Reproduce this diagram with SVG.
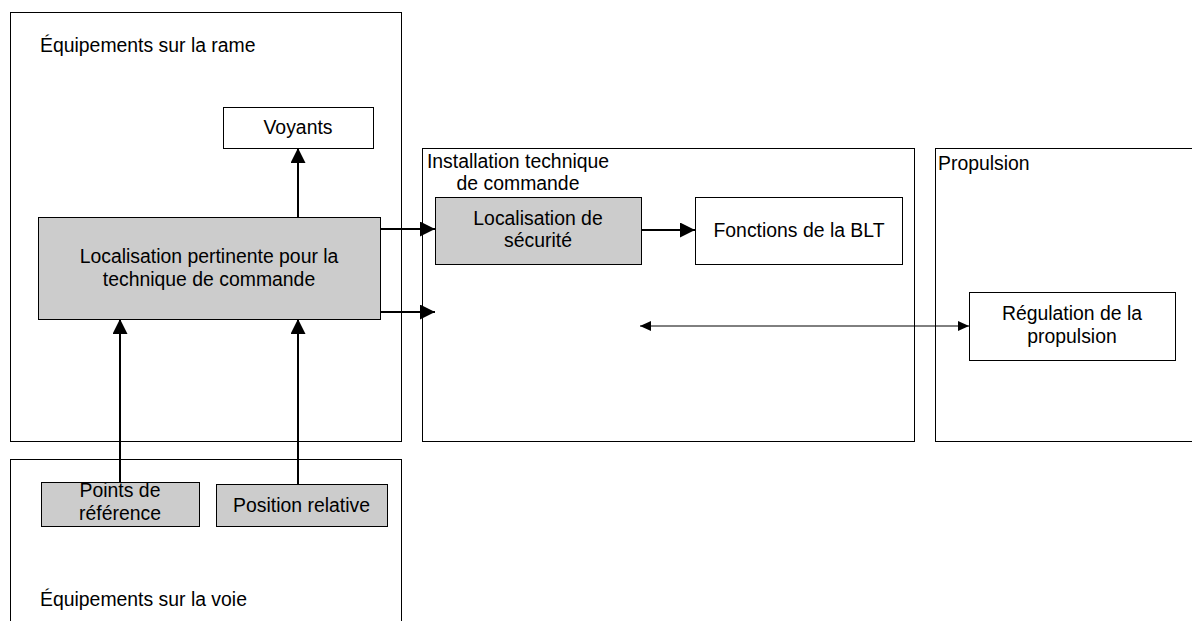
<svg xmlns="http://www.w3.org/2000/svg" width="1192" height="621" viewBox="0 0 1192 621">
<style>
text{font-family:"Liberation Sans",Arial,sans-serif;font-size:19.4px;fill:#000}
.c{text-anchor:middle}
.frame{fill:#fff;stroke:#000;stroke-width:1}
.box{fill:#fff;stroke:#000;stroke-width:1}
.grey{fill:#cccccc;stroke:#000;stroke-width:1}
.arr{stroke:#000;stroke-width:2;fill:none}
.arr1{stroke:#000;stroke-width:1;fill:none}
</style>
<defs>
<marker id="ah" markerUnits="userSpaceOnUse" markerWidth="16" markerHeight="16" refX="15" refY="7.5" orient="auto">
<path d="M0,0 L15,7.5 L0,15 z" fill="#000"/>
</marker>
<marker id="ahs" markerUnits="userSpaceOnUse" markerWidth="12" markerHeight="12" refX="11" refY="5" orient="auto-start-reverse">
<path d="M0,0 L11,5 L0,10 z" fill="#000"/>
</marker>
</defs>
<rect width="1192" height="621" fill="#fff"/>
<g id="rame">
<rect class="frame" x="10.5" y="12.5" width="391" height="429"/>
<text x="40" y="52">Équipements sur la rame</text>
</g>
<g id="voie">
<rect class="frame" x="10.5" y="459.5" width="391" height="180"/>
<text x="40" y="606">Équipements sur la voie</text>
</g>
<g id="installation">
<rect class="frame" x="422.5" y="148.5" width="492" height="293"/>
<text class="c" x="518" y="168">Installation technique</text>
<text class="c" x="518" y="190">de commande</text>
</g>
<g id="propulsion">
<rect class="frame" x="935.5" y="148.5" width="270" height="293"/>
<text x="938" y="170">Propulsion</text>
</g>
<g id="voyants">
<rect class="box" x="223.5" y="107.5" width="150" height="41"/>
<text class="c" x="298" y="134">Voyants</text>
</g>
<g id="localisation-pertinente">
<rect class="grey" x="38.5" y="217.5" width="342" height="102"/>
<text class="c" x="209" y="263">Localisation pertinente pour la</text>
<text class="c" x="209" y="286">technique de commande</text>
</g>
<g id="points-reference">
<rect class="grey" x="41.5" y="482.5" width="158" height="44"/>
<text class="c" x="120" y="497">Points de</text>
<text class="c" x="120" y="520">référence</text>
</g>
<g id="position-relative">
<rect class="grey" x="216.5" y="484.5" width="171" height="42"/>
<text class="c" x="301.5" y="512">Position relative</text>
</g>
<g id="localisation-securite">
<rect class="grey" x="435.5" y="197.5" width="206" height="67"/>
<text class="c" x="538" y="225">Localisation de</text>
<text class="c" x="538" y="247">sécurité</text>
</g>
<g id="fonctions-blt">
<rect class="box" x="695.5" y="197.5" width="207" height="67"/>
<text class="c" x="799" y="237">Fonctions de la BLT</text>
</g>
<g id="regulation">
<rect class="box" x="969.5" y="292.5" width="206" height="68"/>
<text class="c" x="1072" y="320">Régulation de la</text>
<text class="c" x="1072" y="343">propulsion</text>
</g>
<g id="connectors">
<line class="arr" x1="298" y1="217" x2="298" y2="148" marker-end="url(#ah)"/>
<line class="arr" x1="381" y1="229" x2="435" y2="229" marker-end="url(#ah)"/>
<line class="arr" x1="381" y1="312" x2="435" y2="312" marker-end="url(#ah)"/>
<line class="arr" x1="642" y1="230" x2="695" y2="230" marker-end="url(#ah)"/>
<line class="arr" x1="120" y1="482" x2="120" y2="319" marker-end="url(#ah)"/>
<line class="arr" x1="298" y1="484" x2="298" y2="319" marker-end="url(#ah)"/>
<line class="arr1" x1="640" y1="326" x2="969" y2="326" marker-start="url(#ahs)" marker-end="url(#ahs)"/>
</g>
</svg>
